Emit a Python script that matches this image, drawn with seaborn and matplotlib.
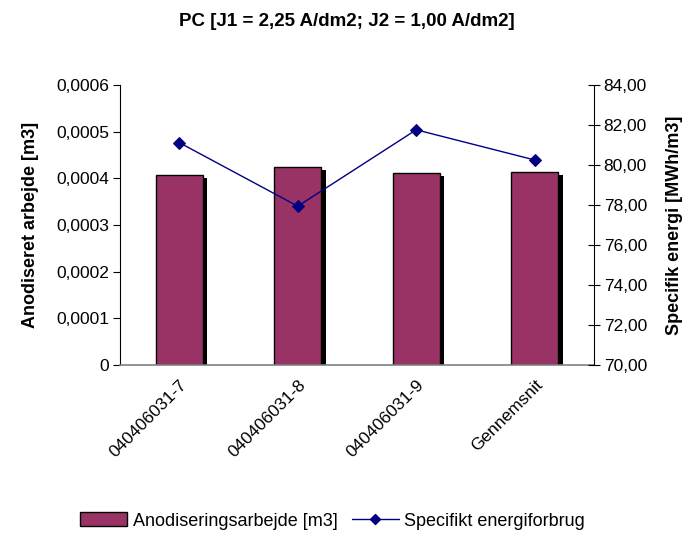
import matplotlib
matplotlib.use("Agg")
import matplotlib.pyplot as plt
import matplotlib.patheffects as pe
import matplotlib.ticker as mticker
import seaborn as sns
import pandas as pd
from matplotlib.patches import Patch
from matplotlib.lines import Line2D

categories = ["040406031-7", "040406031-8", "040406031-9", "Gennemsnit"]
anodisering = [0.000408, 0.000424, 0.000411, 0.000414]
energi = [81.12, 77.94, 81.76, 80.25]

sns.set_theme(style="white")
plt.rcParams['font.family'] = ['Liberation Sans', 'DejaVu Sans']
plt.rcParams['text.color'] = 'black'
plt.rcParams['axes.labelcolor'] = 'black'
plt.rcParams['xtick.color'] = 'black'
plt.rcParams['ytick.color'] = 'black'

df = pd.DataFrame({"cat": categories, "anod": anodisering, "energi": energi})

TICK_FS = 12.5
LAB_FS = 13

fig = plt.figure(figsize=(6.93, 5.34), dpi=100)
ax = fig.add_axes([120/693, 1-365/534, (594-120)/693, (365-85)/534])

sns.barplot(data=df, x="cat", y="anod", ax=ax, color="#993366", saturation=1,
            width=0.4, edgecolor="black", linewidth=1.0)
for p in ax.patches:
    p.set_path_effects([pe.SimplePatchShadow(offset=(3.2, -2.2), shadow_rgbFace="black", alpha=1.0),
                        pe.Normal()])

ax.set_ylim(0, 0.0006)
ax.set_xlim(-0.5, 3.5)
ax.yaxis.set_major_locator(mticker.MultipleLocator(0.0001))
ax.yaxis.set_major_formatter(mticker.FuncFormatter(
    lambda v, p: "0" if abs(v) < 1e-12 else f"{v:.4f}".replace(".", ",")))
ax.set_xlabel("")
ax.set_ylabel("Anodiseret arbejde [m3]", fontsize=LAB_FS, fontweight="bold", labelpad=12)
ax.tick_params(axis="y", labelsize=TICK_FS, direction="out", length=5, width=0.8,
               left=True, colors="black", pad=3)
ax.set_xticks(range(len(categories)))
ax.set_xticklabels(categories, rotation=45, ha="right", rotation_mode="anchor", fontsize=TICK_FS)
ax.tick_params(axis="x", length=0, pad=9, colors="black")
ax.set_xticks([0.5, 1.5, 2.5], minor=True)
ax.tick_params(axis="x", which="minor", direction="inout", length=8, width=0.8, color="#000000")

ax.spines["top"].set_visible(False)
ax.spines["left"].set_color("black")
ax.spines["left"].set_linewidth(0.8)
ax.spines["bottom"].set_color("#808080")
ax.spines["bottom"].set_linewidth(1.2)
ax.spines["right"].set_visible(False)

ax2 = ax.twinx()
sns.lineplot(data=df, x="cat", y="energi", ax=ax2, color="#000080", marker="D",
             markersize=6, markeredgecolor="#000080", linewidth=1.0, sort=False)
ax2.set_ylim(70, 84)
ax2.yaxis.set_major_locator(mticker.MultipleLocator(2))
ax2.yaxis.set_major_formatter(mticker.FuncFormatter(lambda v, p: f"{v:.2f}".replace(".", ",")))
ax2.set_ylabel("Specifik energi [MWh/m3]", fontsize=LAB_FS, fontweight="bold", labelpad=14)
ax2.set_xlabel("")
ax2.tick_params(axis="y", labelsize=TICK_FS, direction="inout", length=8, width=0.8,
                right=True, colors="black", pad=3)
for s in ["top", "left", "bottom"]:
    ax2.spines[s].set_visible(False)
ax2.spines["right"].set_color("black")
ax2.spines["right"].set_linewidth(0.8)
ax2.set_xlim(-0.5, 3.5)

fig.text(0.5, 1-21/534, "PC [J1 = 2,25 A/dm2; J2 = 1,00 A/dm2]", ha="center", va="center",
         fontsize=13.5, fontweight="bold", color="black")

handles = [Patch(facecolor="#993366", edgecolor="black", linewidth=1.0),
           Line2D([0], [0], color="#000080", marker="D", markersize=5, linewidth=1.0)]
fig.legend(handles, ["Anodiseringsarbejde [m3]", "Specifikt energiforbrug"],
           loc="center", bbox_to_anchor=(0.48, 1-521/534), ncol=2, frameon=False,
           fontsize=13, handlelength=2.6, handleheight=0.8, columnspacing=0.8, handletextpad=0.3)

fig.savefig("out.png", dpi=100)
